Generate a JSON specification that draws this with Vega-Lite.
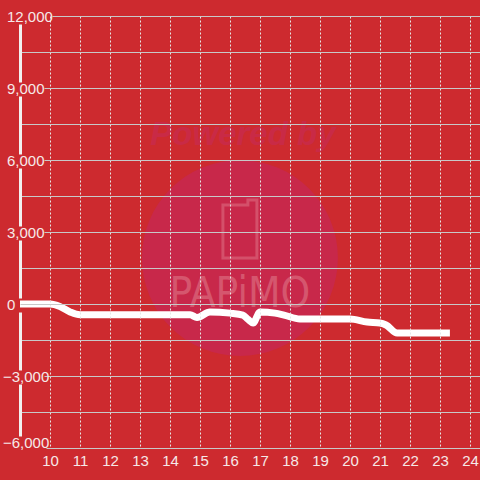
{
  "$schema": "https://vega.github.io/schema/vega-lite/v6.json",
  "width": 460,
  "height": 432,
  "autosize": "none",
  "padding": {"left": 20, "top": 16, "right": 0, "bottom": 32},
  "background": "#cd2a2f",
  "config": {"view": {"stroke": null}, "font": "Liberation Sans"},
  "datasets": {
    "series": [
      {"hour": 9.0, "value": 0},
      {"hour": 10.0, "value": 0},
      {"hour": 10.33, "value": -100},
      {"hour": 10.67, "value": -330},
      {"hour": 11.0, "value": -450},
      {"hour": 12.0, "value": -450},
      {"hour": 13.0, "value": -450},
      {"hour": 14.0, "value": -450},
      {"hour": 14.67, "value": -450},
      {"hour": 14.9, "value": -560},
      {"hour": 15.33, "value": -330},
      {"hour": 16.0, "value": -380},
      {"hour": 16.43, "value": -460},
      {"hour": 16.6, "value": -640},
      {"hour": 16.77, "value": -790},
      {"hour": 17.0, "value": -330},
      {"hour": 17.5, "value": -380},
      {"hour": 17.8, "value": -460},
      {"hour": 18.33, "value": -625},
      {"hour": 19.0, "value": -625},
      {"hour": 20.0, "value": -625},
      {"hour": 20.57, "value": -750},
      {"hour": 21.0, "value": -790},
      {"hour": 21.2, "value": -875},
      {"hour": 21.57, "value": -1208},
      {"hour": 22.0, "value": -1208},
      {"hour": 23.0, "value": -1208},
      {"hour": 23.33, "value": -1208}
    ],
    "mark": [
      {"hour": 16.33, "value": 1917, "label": "PAPiMO", "credit": "Powered by", "creditValue": 6625, "creditHour": 16.43, "phoneValue": 3125, "logoValue": -125}
    ]
  },
  "encoding": {
    "x": {
      "field": "hour",
      "type": "quantitative",
      "scale": {"domain": [9, 24.333], "nice": false, "zero": false},
      "axis": {
        "title": null,
        "values": [10, 11, 12, 13, 14, 15, 16, 17, 18, 19, 20, 21, 22, 23, 24],
        "domain": false,
        "ticks": false,
        "tickSize": 0,
        "grid": true,
        "gridColor": "#e6e6e6",
        "gridDash": [2, 2],
        "gridWidth": 1,
        "labelColor": "#f6e8e8",
        "labelFontSize": 15,
        "labelPadding": 5,
        "labelFlush": false,
        "zindex": 1
      }
    },
    "y": {
      "field": "value",
      "type": "quantitative",
      "scale": {"domain": [-6000, 12000], "nice": false},
      "axis": {
        "title": null,
        "values": [-6000, -4500, -3000, -1500, 0, 1500, 3000, 4500, 6000, 7500, 9000, 10500, 12000],
        "labelExpr": "datum.value % 3000 === 0 ? format(datum.value, ',') : ''",
        "domain": true,
        "domainColor": "#f2f0f0",
        "domainWidth": 3,
        "domainDash": [0, 12, 52, 14, 58, 14, 58, 14, 58, 14, 58, 14, 58, 100],
        "ticks": false,
        "tickSize": 0,
        "grid": true,
        "gridColor": "#c8c8c8",
        "gridWidth": 1,
        "gridDash": {
          "condition": [
            {"test": "datum.value === 12000", "value": [0, 32, 2000]},
            {"test": "datum.value === -6000", "value": [0, 26, 2000]},
            {"test": "datum.value !== 0 && datum.value % 3000 === 0", "value": [0, 24, 2000]}
          ],
          "value": []
        },
        "labelAlign": "left",
        "labelPadding": {"condition": {"test": "datum.value < 0", "value": 17.5}, "value": 13.5},
        "labelColor": "#f6e8e8",
        "labelFontSize": 15,
        "labelFlush": false,
        "labelOffset": {"condition": {"test": "datum.value === -6000", "value": -6}, "value": 0},
        "zindex": 1
      }
    }
  },
  "layer": [
    {
      "data": {"name": "mark"},
      "mark": {"type": "point", "shape": "circle", "filled": true, "size": 38416, "color": "#c8284a", "opacity": 1},
      "encoding": {}
    },
    {
      "data": {"name": "mark"},
      "mark": {"type": "text", "font": "Liberation Sans", "fontSize": 33, "fontWeight": "bold", "fontStyle": "italic", "color": "#c92a46", "align": "center", "baseline": "alphabetic"},
      "encoding": {
        "x": {"field": "creditHour", "type": "quantitative"},
        "y": {"field": "creditValue", "type": "quantitative"},
        "text": {"field": "credit"}
      }
    },
    {
      "data": {"name": "mark"},
      "mark": {"type": "point", "shape": "M-0.586,-0.828 L0.276,-0.828 L0.276,-1 L0.586,-1 L0.586,1 L-0.586,1 Z", "filled": false, "size": 3364, "stroke": "#d4506a", "strokeWidth": 3, "opacity": 1},
      "encoding": {
        "y": {"field": "phoneValue", "type": "quantitative"}
      }
    },
    {
      "data": {"name": "mark"},
      "mark": {"type": "text", "font": "DejaVu Sans Condensed", "fontSize": 42, "color": "#d5566e", "align": "center", "baseline": "alphabetic"},
      "encoding": {
        "y": {"field": "logoValue", "type": "quantitative"},
        "text": {"field": "label"}
      }
    },
    {
      "mark": {"type": "rule", "color": "#f4f0f0", "strokeWidth": 3},
      "encoding": {"x": null, "y": {"datum": 0}}
    },
    {
      "data": {"name": "series"},
      "mark": {"type": "line", "color": "#ffffff", "strokeWidth": 7, "interpolate": "monotone", "strokeCap": "butt", "strokeJoin": "round"},
      "encoding": {}
    }
  ]
}
